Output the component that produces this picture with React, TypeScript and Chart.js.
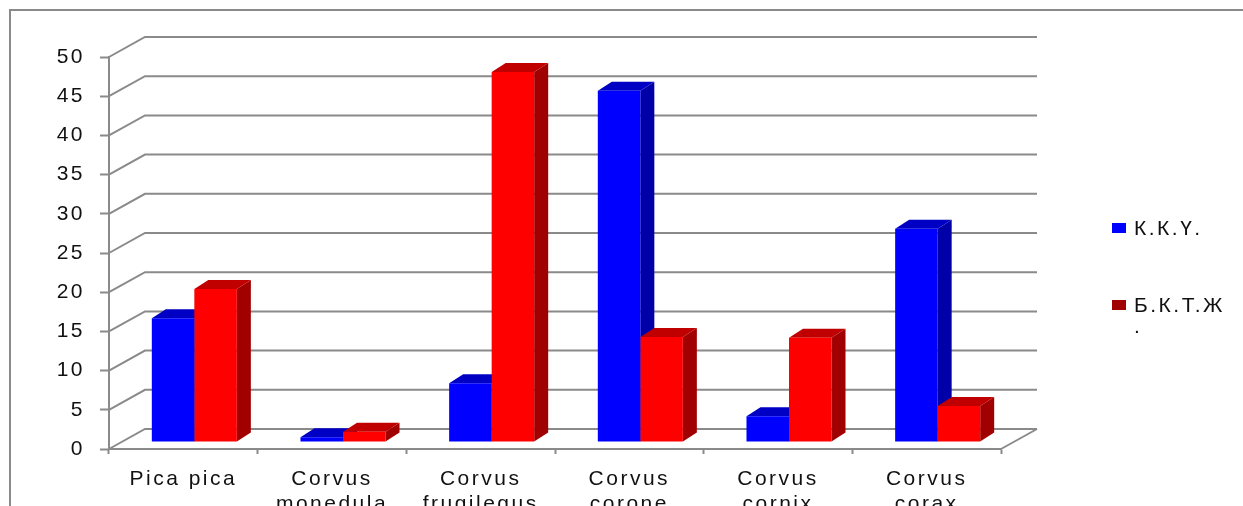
import React, { useEffect, useRef } from "react";
import { Chart, registerables } from "chart.js";

Chart.register(...registerables);

const categories = [
  "Pica pica",
  ["Corvus", "monedula"],
  ["Corvus", "frugilegus"],
  ["Corvus", "corone"],
  ["Corvus", "cornix"],
  ["Corvus", "corax"],
];
const seriesKKY = [15.8, 0.6, 7.5, 44.8, 3.3, 27.2];
const seriesBKTJ = [19.5, 1.3, 47.2, 13.4, 13.3, 4.6];
const seriesNames = ["К.К.Ү.", "Б.К.Т.Ж"];
const legendExtraLine = ".";

const FONT = '"Liberation Sans", Arial, sans-serif';
const SPACING = "2.5px";
const GRAY = "#8a8a8a";
const WALL = { dx: 36, dy: -20 };
const PLANE = { dx: 11, dy: -7 };
const BAR = { dx: 14, dy: -9 };
const SHADES = [
  { top: "#0000c4", side: "#0000a8" },
  { top: "#c00000", side: "#a00000" },
];

const setSpacing = (chart: any) => {
  chart.ctx.letterSpacing = SPACING;
};

const scene3d = {
  id: "scene3d",
  beforeInit: setSpacing,
  beforeDraw(chart: any) {
    const { ctx } = chart;
    setSpacing(chart);
    ctx.save();
    ctx.strokeStyle = GRAY;
    ctx.lineWidth = 2;
    ctx.beginPath();
    ctx.moveTo(10, 506);
    ctx.lineTo(10, 10);
    ctx.lineTo(1243, 10);
    ctx.stroke();
    ctx.restore();
  },
  beforeDatasetsDraw(chart: any) {
    const { ctx, chartArea: a, scales } = chart;
    const yScale = scales.y;
    ctx.save();
    ctx.strokeStyle = GRAY;
    ctx.lineWidth = 2;
    yScale.ticks.forEach((t: any) => {
      const y = yScale.getPixelForValue(t.value);
      ctx.beginPath();
      ctx.moveTo(a.left, y);
      ctx.lineTo(a.left + WALL.dx, y + WALL.dy);
      ctx.lineTo(a.right + WALL.dx, y + WALL.dy);
      ctx.stroke();
    });
    ctx.beginPath();
    ctx.moveTo(a.right, a.bottom);
    ctx.lineTo(a.right + WALL.dx, a.bottom + WALL.dy);
    ctx.stroke();
    ctx.restore();

    // Extruded faces: left series first, so the right series' faces overlap it.
    ctx.save();
    ctx.translate(PLANE.dx, PLANE.dy);
    [0, 1].forEach((index) => {
      const shade = SHADES[index];
      chart.getDatasetMeta(index).data.forEach((bar: any) => {
        const p = bar.getProps(["x", "y", "base", "width"], true);
        const l = p.x - p.width / 2;
        const r = p.x + p.width / 2;
        ctx.fillStyle = shade.side;
        ctx.beginPath();
        ctx.moveTo(r, p.base);
        ctx.lineTo(r + BAR.dx, p.base + BAR.dy);
        ctx.lineTo(r + BAR.dx, p.y + BAR.dy);
        ctx.lineTo(r, p.y);
        ctx.closePath();
        ctx.fill();
        ctx.fillStyle = shade.top;
        ctx.beginPath();
        ctx.moveTo(l, p.y);
        ctx.lineTo(l + BAR.dx, p.y + BAR.dy);
        ctx.lineTo(r + BAR.dx, p.y + BAR.dy);
        ctx.lineTo(r, p.y);
        ctx.closePath();
        ctx.fill();
      });
    });
    ctx.restore();
  },
  beforeDatasetDraw(chart: any) {
    chart.ctx.save();
    chart.ctx.translate(PLANE.dx, PLANE.dy);
  },
  afterDatasetDraw(chart: any) {
    chart.ctx.restore();
  },
  afterDraw(chart: any) {
    const { ctx } = chart;
    const names = chart.data.datasets.map((d: any) => d.label);
    ctx.save();
    ctx.font = `21px ${FONT}`;
    ctx.textBaseline = "middle";
    ctx.textAlign = "left";
    ctx.fillStyle = "#0000ff";
    ctx.fillRect(1112, 223, 14, 10);
    ctx.fillStyle = "#a00000";
    ctx.fillRect(1112, 300, 14, 10);
    ctx.fillStyle = "#111";
    ctx.fillText(names[0], 1134, 229);
    ctx.fillText(names[1], 1134, 306);
    ctx.fillText(legendExtraLine, 1134, 327);
    ctx.restore();
  },
};

export default function App() {
  const ref = useRef<HTMLCanvasElement>(null);
  useEffect(() => {
    const chart = new Chart(ref.current as HTMLCanvasElement, {
      type: "bar",
      data: {
        labels: categories as any,
        datasets: [
          { label: seriesNames[0], data: seriesKKY, backgroundColor: "#0000ff", clip: false },
          { label: seriesNames[1], data: seriesBKTJ, backgroundColor: "#ff0000", clip: false },
        ] as any,
      },
      options: {
        animation: false,
        responsive: false,
        devicePixelRatio: 1,
        layout: { padding: { top: 57, right: 242, left: 0, bottom: 0 } },
        datasets: { bar: { categoryPercentage: 0.572, barPercentage: 1 } },
        plugins: { legend: { display: false }, title: { display: false }, tooltip: { enabled: false } },
        scales: {
          x: {
            afterFit: (s: any) => { s.height = 57; },
            grid: { drawOnChartArea: false, drawTicks: true, tickLength: 5, tickColor: GRAY, tickWidth: 2 },
            border: { color: GRAY, width: 2 },
            ticks: {
              color: "#111",
              maxRotation: 0,
              autoSkip: false,
              padding: 13,
              font: { family: FONT, size: 21, lineHeight: 1.18 },
            },
          },
          y: {
            min: 0,
            max: 50,
            afterFit: (s: any) => { s.width = 109; },
            grid: { drawOnChartArea: false, drawTicks: true, tickLength: 9, tickColor: GRAY, tickWidth: 2 },
            border: { color: GRAY, width: 2 },
            ticks: {
              stepSize: 5,
              color: "#111",
              padding: 15,
              font: { family: FONT, size: 21 },
            },
          },
        },
      } as any,
      plugins: [scene3d as any],
    });
    return () => chart.destroy();
  }, []);
  return (
    <div style={{ position: "absolute", left: 0, top: 0, width: 1243, height: 506, overflow: "hidden", background: "#fff" }}>
      <canvas ref={ref} width={1243} height={506} style={{ display: "block", filter: "blur(0.4px)" }} />
    </div>
  );
}
